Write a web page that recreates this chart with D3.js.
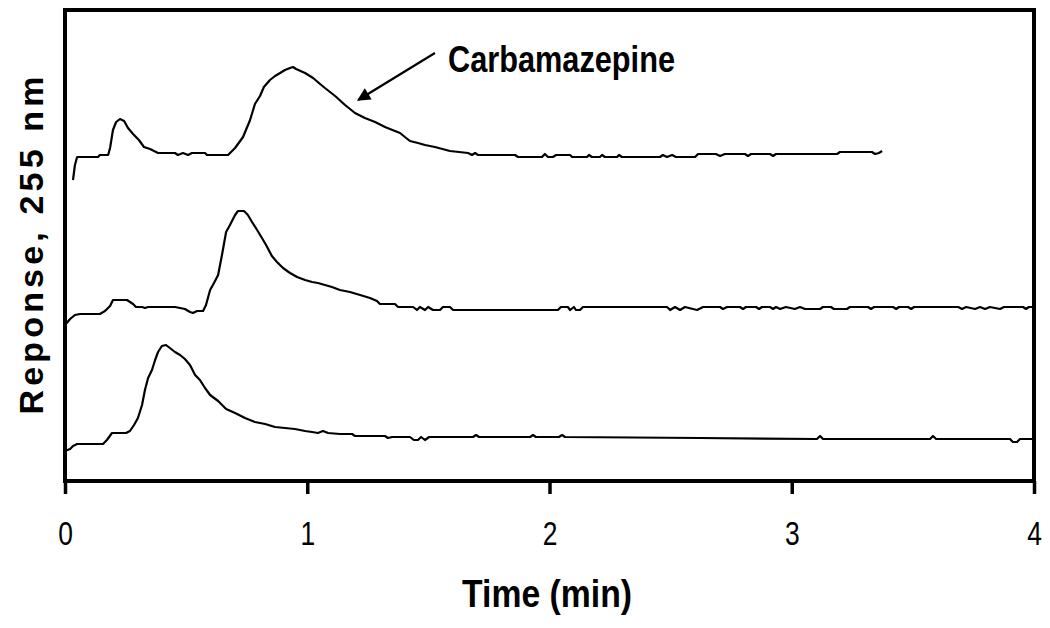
<!DOCTYPE html>
<html>
<head>
<meta charset="utf-8">
<script src="https://cdn.jsdelivr.net/npm/d3@7"></script>
<style>
  body { margin: 0; background: #fff; }
  svg { display: block; }
</style>
</head>
<body>
<script>
// time in min, response in arbitrary units (stacked chromatograms)
const xTicks = [0, 1, 2, 3, 4];

const traceTopTime = [0.033,0.041,0.050,0.136,0.144,0.178,0.186,0.198,0.211,0.227,0.244,0.260,0.281,0.305,0.326,0.351,0.384,0.454,0.466,0.487,0.508,0.524,0.578,0.586,0.673,0.702,0.735,0.764,0.784,0.805,0.821,0.846,0.867,0.888,0.908,0.929,0.941,0.954,0.991,1.024,1.053,1.073,1.115,1.156,1.197,1.238,1.280,1.321,1.362,1.383,1.403,1.424,1.457,1.486,1.527,1.589,1.664,1.680,1.693,1.705,1.858,1.870,1.969,1.981,1.994,2.014,2.027,2.085,2.093,2.155,2.163,2.175,2.208,2.217,2.229,2.279,2.287,2.299,2.456,2.468,2.485,2.506,2.522,2.601,2.613,2.687,2.704,2.724,2.807,2.819,2.832,2.910,2.923,2.935,3.187,3.199,3.331,3.344,3.360,3.373];
const traceTopResp = [60.2,63.2,64.8,64.8,65.2,65.2,66.6,70.2,71.8,72.4,72.0,70.6,69.4,68.2,66.8,66.4,65.6,65.6,65.2,65.6,65.2,65.6,65.6,65.2,65.2,66.6,68.8,72.2,75.4,77.0,78.8,80.2,81.0,81.6,82.2,82.6,82.8,82.4,81.6,80.6,79.4,78.6,77.0,75.2,73.6,72.6,71.8,70.8,70.0,69.6,68.8,68.0,67.6,67.2,66.8,66.0,65.6,65.2,65.6,65.2,65.2,64.8,64.8,65.4,64.8,64.8,65.2,65.2,64.8,64.8,65.2,64.8,64.8,65.2,64.8,64.8,65.2,64.8,64.8,65.2,64.8,65.2,64.8,64.8,65.4,65.4,65.0,65.4,65.4,65.0,65.4,65.4,65.0,65.4,65.4,65.8,65.8,65.4,65.6,66.0];

const traceMidTime = [0,0.021,0.041,0.062,0.144,0.165,0.186,0.198,0.256,0.281,0.293,0.318,0.330,0.343,0.454,0.475,0.495,0.516,0.528,0.545,0.570,0.582,0.599,0.615,0.632,0.648,0.665,0.681,0.702,0.714,0.739,0.755,0.772,0.793,0.813,0.830,0.854,0.875,0.900,0.929,0.958,0.991,1.020,1.044,1.073,1.102,1.135,1.176,1.218,1.259,1.288,1.300,1.362,1.375,1.437,1.453,1.465,1.486,1.499,1.519,1.548,1.560,1.589,1.602,2.035,2.047,2.076,2.085,2.101,2.109,2.126,2.138,2.485,2.498,2.518,2.539,2.559,2.609,2.634,2.704,2.716,2.733,2.786,2.799,2.811,2.853,2.865,2.877,2.910,2.923,2.935,2.952,2.976,3.013,3.034,3.055,3.117,3.129,3.162,3.174,3.228,3.240,3.315,3.327,3.340,3.418,3.431,3.443,3.480,3.493,3.505,3.687,3.703,3.720,3.757,3.777,3.798,3.818,3.860,3.876,3.955,3.967,3.979,4.0];
const traceMidResp = [31.2,32.4,33.2,33.4,33.4,34.0,35.0,36.2,36.2,35.4,34.8,34.8,34.6,34.8,34.8,34.6,34.4,33.8,33.6,34.0,34.0,35.2,38.2,39.6,41.2,45.2,49.8,51.2,53.2,54.0,54.0,53.2,51.8,50.2,48.6,47.2,45.0,43.8,42.6,41.6,40.8,40.2,39.8,39.6,39.2,38.8,38.2,37.8,37.2,36.6,36.0,35.4,35.4,34.8,34.8,34.2,34.8,34.2,34.8,34.2,34.2,34.8,34.8,34.2,34.2,34.8,34.8,34.2,34.8,34.2,34.2,34.8,34.8,34.2,34.8,34.2,34.8,34.2,34.8,34.8,34.4,34.8,34.8,34.4,34.8,34.8,34.4,34.8,34.8,34.4,34.8,34.4,34.8,34.4,34.8,34.4,34.4,34.8,34.8,34.4,34.4,34.8,34.8,34.4,34.8,34.8,34.4,34.8,34.8,34.4,34.8,34.8,34.4,34.8,34.4,34.8,34.4,34.8,34.4,34.8,34.8,34.4,34.8,34.8];

const traceLowTime = [0,0.021,0.033,0.050,0.157,0.173,0.194,0.252,0.268,0.285,0.301,0.318,0.330,0.343,0.359,0.372,0.384,0.400,0.417,0.433,0.454,0.475,0.495,0.516,0.537,0.557,0.578,0.599,0.632,0.665,0.702,0.743,0.784,0.826,0.867,0.908,0.949,0.991,1.020,1.044,1.065,1.086,1.135,1.185,1.197,1.321,1.333,1.350,1.424,1.440,1.457,1.470,1.486,1.503,1.684,1.697,1.709,1.920,1.932,1.944,2.039,2.052,2.064,2.621,3.104,3.117,3.129,3.571,3.583,3.596,3.901,3.913,3.930,3.942,4.0];
const traceLowResp = [6.0,6.4,7.0,7.4,7.4,8.2,9.6,9.6,10.0,11.2,12.6,15.2,18.2,20.6,22.2,24.2,25.8,27.0,27.2,26.6,25.8,25.2,24.4,23.2,21.2,20.2,18.6,17.2,16.0,14.4,13.6,12.6,11.8,11.4,10.8,10.6,10.4,10.0,9.8,9.6,10.0,9.6,9.4,9.4,9.0,9.0,8.6,8.8,8.8,8.2,8.2,8.8,8.2,8.8,8.8,9.2,8.8,8.8,9.2,8.8,8.8,9.2,8.8,8.6,8.4,9.0,8.4,8.4,9.0,8.4,8.4,7.8,7.8,8.4,8.4];

const peakLabel = 'Carbamazepine';
const xTitle = 'Time (min)';
const yTitle = 'Reponse, 255 nm';

const width = 1050;
const height = 628;
const margin = {top: 10, right: 16, bottom: 147, left: 65};

const x = d3.scaleLinear()
    .domain([0, 4])
    .range([margin.left, width - margin.right]);

const y = d3.scaleLinear()
    .domain([0, 94.2])
    .range([height - margin.bottom, margin.top]);

const svg = d3.select('body').append('svg')
    .attr('width', width)
    .attr('height', height);

const font = '"Liberation Sans", Arial, sans-serif';

// traces
const line = d3.line()
    .x(d => x(d[0]))
    .y(d => y(d[1]));

const traces = [
    d3.zip(traceTopTime, traceTopResp),
    d3.zip(traceMidTime, traceMidResp),
    d3.zip(traceLowTime, traceLowResp)
];

svg.append('g')
    .selectAll('path')
    .data(traces)
    .enter()
    .append('path')
    .attr('d', line)
    .style('fill', 'none')
    .style('stroke', '#000')
    .style('stroke-width', 2.2)
    .style('stroke-linejoin', 'round');

// frame
svg.append('rect')
    .attr('x', x(0))
    .attr('y', y.range()[1])
    .attr('width', x(4) - x(0))
    .attr('height', y.range()[0] - y.range()[1])
    .style('fill', 'none')
    .style('stroke', '#000')
    .style('stroke-width', 4);

// x axis
const xAxis = d3.axisBottom(x)
    .tickValues(xTicks)
    .tickFormat(d3.format('d'))
    .tickSize(13);

const gx = svg.append('g')
    .attr('transform', `translate(0,${y(0)})`)
    .call(xAxis);

gx.select('.domain').remove();
gx.selectAll('.tick line')
    .style('stroke-width', 3.5);
// narrow look: squeeze the glyphs horizontally
gx.selectAll('.tick text')
    .style('font-family', font)
    .style('font-size', '33px')
    .attr('dy', null)
    .attr('y', 64)
    .attr('transform', 'scale(0.8,1)');

svg.append('text')
    .attr('x', 547)
    .attr('y', 607)
    .attr('text-anchor', 'middle')
    .attr('textLength', 170)
    .attr('lengthAdjust', 'spacingAndGlyphs')
    .style('font-family', font)
    .style('font-weight', 'bold')
    .style('font-size', '38px')
    .text(xTitle);

svg.append('text')
    .attr('transform', `translate(43,${(y.range()[0] + y.range()[1]) / 2}) rotate(-90)`)
    .attr('text-anchor', 'middle')
    .attr('textLength', 338)
    .attr('lengthAdjust', 'spacing')
    .style('font-family', font)
    .style('font-weight', 'bold')
    .style('font-size', '34px')
    .text(yTitle);

// annotation
svg.append('defs').append('marker')
    .attr('id', 'head')
    .attr('viewBox', '0 0 10 10')
    .attr('refX', 9)
    .attr('refY', 5)
    .attr('markerWidth', 7)
    .attr('markerHeight', 6)
    .attr('orient', 'auto')
    .append('path')
    .attr('d', 'M0,0L10,5L0,10Z')
    .style('fill', '#000');

svg.append('line')
    .attr('x1', x(1.527))
    .attr('y1', y(85.6))
    .attr('x2', x(1.210))
    .attr('y2', y(76.2))
    .style('stroke', '#000')
    .style('stroke-width', 2.2)
    .attr('marker-end', 'url(#head)');

svg.append('text')
    .attr('x', x(1.581))
    .attr('y', y(81.8))
    .attr('textLength', 227)
    .attr('lengthAdjust', 'spacingAndGlyphs')
    .style('font-family', font)
    .style('font-weight', 'bold')
    .style('font-size', '36px')
    .text(peakLabel);
</script>
</body>
</html>
